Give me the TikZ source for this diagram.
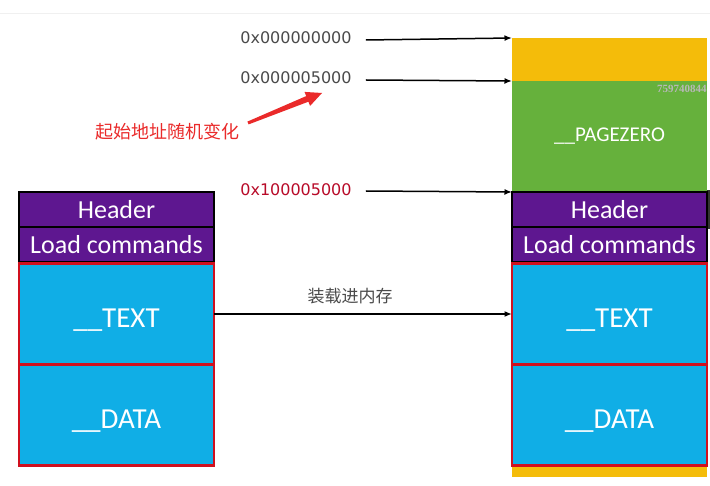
\documentclass[tikz,border=0pt]{standalone}
\usepackage{fontspec}
\setmainfont{Carlito}
\newfontfamily\hexfont{DejaVu Sans}
\newfontfamily\cjk{Noto Sans CJK SC}
\newfontfamily\wmfont{Liberation Serif}
\usetikzlibrary{arrows.meta}
\definecolor{cyellow}{HTML}{F4BC0A}
\definecolor{cgreen}{HTML}{66B13C}
\definecolor{cpurple}{HTML}{5E1790}
\definecolor{ccyan}{HTML}{10AEE6}
\definecolor{cborder}{HTML}{D0101E}
\definecolor{credtext}{HTML}{EA2A2A}
\definecolor{chexgrey}{HTML}{4A4A4A}
\definecolor{chexred}{HTML}{B80A28}
\tikzset{
  seg/.style={inner sep=0pt, outer sep=0pt, minimum width=195pt, text=white},
  purplebox/.style={seg, fill=cpurple, minimum height=35pt,
     font=\fontsize{26}{26}\selectfont},
  cyanbox/.style={seg, fill=ccyan, minimum height=101pt, text height=27pt, text depth=0pt,
     font=\fontsize{29}{29}\selectfont},
  blackedge/.style={draw=black, line width=2pt},
  rededge/.style={draw=cborder, line width=2.2pt},
  hexlabel/.style={inner sep=0pt, font=\hexfont\fontsize{16}{16}\selectfont, text=chexgrey},
  ptr/.style={-{Latex[length=7.5pt,width=6pt]}, line width=1.5pt, black},
}
\begin{document}
\begin{tikzpicture}[x=1pt,y=-1pt]
\useasboundingbox (0,0) rectangle (710,486);
\fill[white] (0,0) rectangle (710,486);
\draw[black!6, line width=0.8pt] (0,13) -- (710,13);

% left column
\node[purplebox] (lhead) at (116.5,209.5) {Header};
\node[purplebox] (lload) at (116.5,244.5) {Load commands};
\node[cyanbox] (ltext) at (116.5,314) {\_\_TEXT};
\node[cyanbox] (ldata) at (116.5,415) {\_\_DATA};

% right column
\node[seg, fill=cyellow, minimum height=43pt] (rtop) at (609.5,59.5) {};
\node[seg, fill=cgreen, minimum height=111pt, font=\fontsize{21}{21}\selectfont] (rzero) at (609.5,136.5) {\_\_PAGEZERO};
\node[purplebox] (rhead) at (609.5,209.5) {Header};
\node[purplebox] (rload) at (609.5,244.5) {Load commands};
\node[cyanbox] (rtext) at (609.5,314) {\_\_TEXT};
\node[cyanbox] (rdata) at (609.5,415) {\_\_DATA};
\node[seg, fill=cyellow, minimum height=11pt] (rbottom) at (609.5,471.5) {};
\fill[black!80] (707,190) rectangle (710,229);

% borders drawn on top of the fills
\foreach \n in {lhead,lload,rhead,rload}
  \draw[blackedge] (\n.north west) rectangle (\n.south east);
\foreach \n in {ltext,ldata,rtext,rdata}
  \draw[rededge] (\n.north west) rectangle (\n.south east);

% watermark
\node[anchor=west, inner sep=0pt, text=black!28, font=\wmfont\bfseries\fontsize{11}{11}\selectfont] (wm) at (657,89) {759740844};

% address labels
\node[hexlabel] (a0) at (296,38) {0x000000000};
\node[hexlabel] (a1) at (296,78) {0x000005000};
\node[hexlabel, text=chexred] (a2) at (296,190) {0x100005000};
\draw[ptr] ([xshift=14pt,yshift=-2pt]a0.east) -- (rtop.north west);
\draw[ptr] ([xshift=14pt,yshift=-2pt]a1.east) -- (rzero.north west);
\draw[ptr] ([xshift=14pt,yshift=-1pt]a2.east) -- (rhead.north west);

% load arrow
\draw[ptr] (ltext.east) -- (rtext.west);
\node[inner sep=0pt, font=\cjk\fontsize{17}{17}\selectfont, text=chexgrey] (loadlbl) at (350,296) {装载进内存};

% red annotation
\node[inner sep=0pt, font=\cjk\fontsize{18}{18}\selectfont, text=credtext] (note) at (167,132) {起始地址随机变化};
\coordinate (tip) at (322,93);
\fill[credtext] (247.4,121.6) -- (306.2,96.1) -- (304.5,91.9) -- (tip) -- (310.1,105.9) -- (308.4,101.7) -- (248.6,124.4) -- cycle;
\end{tikzpicture}
\end{document}
